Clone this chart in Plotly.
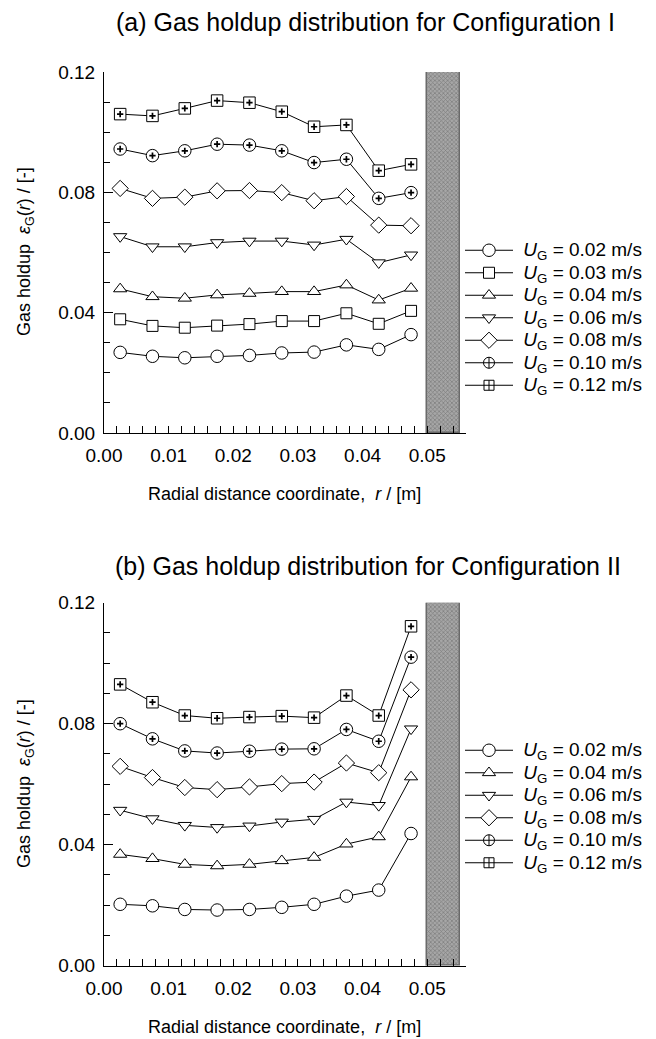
import plotly.graph_objects as go

W, H = 656, 1039

# ---------------- data ----------------
r = [0.0025, 0.0075, 0.0125, 0.0175, 0.0225, 0.0275, 0.0325, 0.0375, 0.0425, 0.0475]

# Configuration I
c1_u002 = [0.0268, 0.0255, 0.0250, 0.0255, 0.0258, 0.0266, 0.0269, 0.0293, 0.0278, 0.0327]
c1_u003 = [0.0378, 0.0356, 0.0350, 0.0357, 0.0362, 0.0372, 0.0372, 0.0398, 0.0363, 0.0406]
c1_u004 = [0.0479, 0.0453, 0.0448, 0.0459, 0.0464, 0.0470, 0.0470, 0.0492, 0.0442, 0.0481]
c1_u006 = [0.0653, 0.0619, 0.0619, 0.0633, 0.0638, 0.0638, 0.0625, 0.0644, 0.0566, 0.0592]
c1_u008 = [0.0813, 0.0780, 0.0784, 0.0805, 0.0806, 0.0799, 0.0772, 0.0786, 0.0691, 0.0689]
c1_u010 = [0.0944, 0.0922, 0.0938, 0.0960, 0.0957, 0.0938, 0.0899, 0.0910, 0.0780, 0.0799]
c1_u012 = [0.1060, 0.1054, 0.1079, 0.1105, 0.1098, 0.1068, 0.1018, 0.1024, 0.0872, 0.0893]

# Configuration II
c2_u002 = [0.0203, 0.0198, 0.0186, 0.0184, 0.0186, 0.0193, 0.0203, 0.0230, 0.0250, 0.0437]
c2_u004 = [0.0368, 0.0354, 0.0335, 0.0330, 0.0335, 0.0347, 0.0358, 0.0402, 0.0426, 0.0624]
c2_u006 = [0.0514, 0.0486, 0.0464, 0.0457, 0.0462, 0.0475, 0.0484, 0.0541, 0.0530, 0.0783]
c2_u008 = [0.0659, 0.0622, 0.0589, 0.0582, 0.0591, 0.0602, 0.0607, 0.0670, 0.0638, 0.0912]
c2_u010 = [0.0800, 0.0750, 0.0710, 0.0703, 0.0709, 0.0716, 0.0717, 0.0781, 0.0742, 0.1020]
c2_u012 = [0.0930, 0.0871, 0.0827, 0.0818, 0.0822, 0.0825, 0.0820, 0.0893, 0.0827, 0.1122]

c1_labels = ["0.02", "0.03", "0.04", "0.06", "0.08", "0.10", "0.12"]
c2_labels = ["0.02", "0.04", "0.06", "0.08", "0.10", "0.12"]

# column wall region (hatched)
wall_r = [0.050, 0.055]
wall_top = 0.12

x_ticks = [0.00, 0.01, 0.02, 0.03, 0.04, 0.05]
y_ticks = [0.00, 0.04, 0.08, 0.12]

# ---------------- styling ----------------
FONT = "Liberation Sans, Arial, sans-serif"
STYLE = {
    "0.02": dict(symbol="circle", size=12.5, plus=False),
    "0.03": dict(symbol="square", size=11, plus=False),
    "0.04": dict(symbol="triangle-up", size=11.5, plus=False),
    "0.06": dict(symbol="triangle-down", size=11.5, plus=False),
    "0.08": dict(symbol="diamond", size=12.5, plus=False),
    "0.10": dict(symbol="circle", size=12.5, plus=True),
    "0.12": dict(symbol="square", size=11.5, plus=True),
}


def px_x(p):
    return p / W


def px_y(p):
    return 1 - p / H


fig = go.Figure()


def add_panel(xa, ya, legend, labels, series):
    # hatched wall
    fig.add_trace(go.Bar(
        x=[(wall_r[0] + wall_r[1]) / 2], y=[wall_top], width=[wall_r[1] - wall_r[0]],
        xaxis=xa, yaxis=ya, showlegend=False, hoverinfo="skip",
        marker=dict(color="#8f8f8f", line=dict(color="#6a6a6a", width=1.5),
                    pattern=dict(shape="x", size=3, solidity=0.4,
                                 fgcolor="#505050", bgcolor="#a6a6a6")),
    ))
    for lab, vals in zip(labels, series):
        st = STYLE[lab]
        name = ('<span style="font-size:19px">\u00a0<i>U</i><sub>G</sub> = %s m/s</span>'
                % lab)
        fig.add_trace(go.Scatter(
            x=r, y=vals, xaxis=xa, yaxis=ya, mode="lines+markers",
            name=name, legend=legend, showlegend=not st["plus"],
            line=dict(color="black", width=1),
            marker=dict(symbol=st["symbol"], size=st["size"], color="white",
                        line=dict(color="black", width=1)),
        ))
        if st["plus"]:
            fig.add_trace(go.Scatter(
                x=r, y=vals, xaxis=xa, yaxis=ya, mode="markers",
                showlegend=False, hoverinfo="skip",
                marker=dict(symbol="cross-thin-open", size=4.5, color="black",
                            line=dict(color="black", width=1.7)),
            ))
            fig.add_trace(go.Scatter(
                x=[None], y=[None], xaxis=xa, yaxis=ya, mode="lines+markers",
                name=name, legend=legend, showlegend=True,
                line=dict(color="black", width=1),
                marker=dict(symbol=st["symbol"] + "-cross", size=st["size"] - 1.5,
                            color="white", line=dict(color="black", width=1)),
            ))


add_panel("x", "y", "legend", c1_labels,
          [c1_u002, c1_u003, c1_u004, c1_u006, c1_u008, c1_u010, c1_u012])
add_panel("x2", "y2", "legend2", c2_labels,
          [c2_u002, c2_u004, c2_u006, c2_u008, c2_u010, c2_u012])

X_DOM = [px_x(104), px_x(466)]


def xaxis_cfg(anchor):
    return dict(
        domain=X_DOM, anchor=anchor, range=[0, 0.056], automargin=False,
        tickmode="array", tickvals=x_ticks, ticktext=["%.2f" % v for v in x_ticks],
        ticks="inside", ticklen=7, tickwidth=1, tickcolor="black",
        minor=dict(dtick=0.002, tick0=0, ticks="inside", ticklen=7, tickwidth=1, tickcolor="black"),
        showline=True, linecolor="black", linewidth=1, showgrid=False, zeroline=False,
        tickfont=dict(family=FONT, size=19, color="black"), ticklabelstandoff=5,
        fixedrange=True,
    )


def yaxis_cfg(anchor, dom):
    return dict(
        domain=dom, anchor=anchor, range=[0, 0.12], automargin=False,
        tickmode="array", tickvals=y_ticks, ticktext=["%.2f" % v for v in y_ticks],
        ticks="inside", ticklen=9, tickwidth=1, tickcolor="black",
        minor=dict(dtick=0.01, tick0=0, ticks="inside", ticklen=6, tickwidth=1, tickcolor="black"),
        showline=True, linecolor="black", linewidth=1, showgrid=False, zeroline=False,
        tickfont=dict(family=FONT, size=19, color="black"), ticklabelstandoff=4,
        fixedrange=True,
    )


legend_common = dict(
    font=dict(family=FONT, size=15, color="black"), bgcolor="rgba(0,0,0,0)",
    xanchor="left", yanchor="top", itemwidth=48, tracegroupgap=0,
    itemclick=False, itemdoubleclick=False,
)

ann = []
ann.append(dict(text="(a) Gas holdup distribution for Configuration I", x=px_x(365), y=px_y(22)))
ann.append(dict(text="(b) Gas holdup distribution for Configuration II", x=px_x(368), y=px_y(566)))
for t in ann:
    t.update(xref="paper", yref="paper", showarrow=False, xanchor="center", yanchor="middle",
             font=dict(family=FONT, size=25, color="black"))

xt = "Radial distance coordinate,\u00a0\u00a0<i>r</i> / [m]"
yt = "Gas holdup\u00a0\u00a0<i>ε</i><sub>G</sub>(<i>r</i>) / [-]"
for yy in (494, 1027):
    ann.append(dict(text=xt, x=px_x(284), y=px_y(yy), xref="paper", yref="paper",
                    showarrow=False, xanchor="center", yanchor="middle",
                    font=dict(family=FONT, size=18, color="black")))
for yy in (252, 784):
    ann.append(dict(text=yt, x=px_x(25), y=px_y(yy), xref="paper", yref="paper",
                    showarrow=False, xanchor="center", yanchor="middle", textangle=-90,
                    font=dict(family=FONT, size=18, color="black")))

fig.update_layout(
    width=W, height=H, autosize=False,
    margin=dict(l=0, r=0, t=0, b=0),
    paper_bgcolor="white", plot_bgcolor="white",
    xaxis=xaxis_cfg("y"), yaxis=yaxis_cfg("x", [px_y(433), px_y(72)]),
    xaxis2=xaxis_cfg("y2"), yaxis2=yaxis_cfg("x2", [px_y(965.7), px_y(602.7)]),
    legend=dict(x=px_x(460), y=px_y(234), **legend_common),
    legend2=dict(x=px_x(460), y=px_y(734), **legend_common),
    annotations=ann,
    showlegend=True,
    bargap=0,
)

fig.write_html("out.html")
